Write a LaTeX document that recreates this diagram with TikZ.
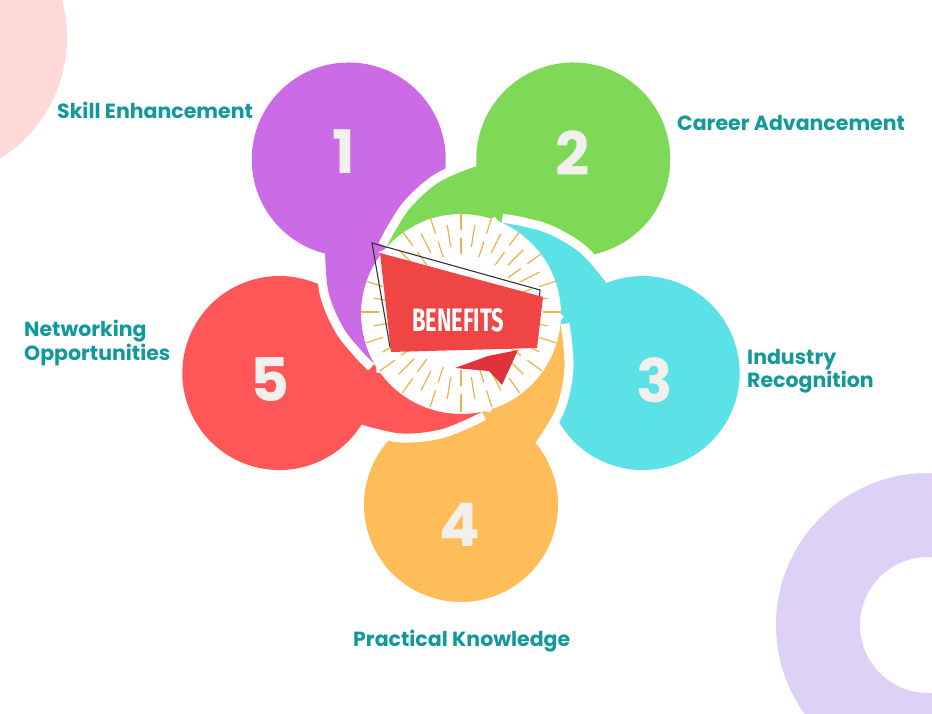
\documentclass[tikz,border=0pt]{standalone}
\usepackage{fontspec}
\usepackage{graphicx}
\setmainfont{Poppins}
\newfontfamily\banfont{Fira Sans}
\definecolor{cpurple}{HTML}{CB6CE6}
\definecolor{cgreen}{HTML}{7ED957}
\definecolor{ccyan}{HTML}{5CE1E6}
\definecolor{corange}{HTML}{FFBD59}
\definecolor{cred}{HTML}{FF5757}
\definecolor{teal}{HTML}{14999A}
\definecolor{digitc}{HTML}{F2F0EC}
\definecolor{pinkbg}{HTML}{FFD8D8}
\definecolor{lavbg}{HTML}{DDD1F8}
\definecolor{raygold}{HTML}{EDB04A}
\definecolor{banred}{HTML}{F04545}
\definecolor{ribred}{HTML}{E0323C}
\newcommand\petalcircle[2]{%
  \begin{scope}[rotate=#2]\fill[#1] (191,0) circle[radius=97];\end{scope}}
\newcommand\petaltail[2]{%
  \begin{scope}[rotate=#2]
    \draw[white,line width=18] plot[smooth,tension=0.6] coordinates {(84:100) (73:107) (60:119) (45:134) (30.6:148)};
    \fill[#1] (191,0) -- (18:100) arc[start angle=18,end angle=84,radius=100]
      -- plot[smooth,tension=0.6] coordinates {(84:100) (73:107) (60:119) (45:134) (30.6:148)} -- cycle;
  \end{scope}}
\tikzset{
  lbl/.style={text=teal,font=\fontsize{20.5}{20}\selectfont\bfseries,align=left,inner sep=0pt},
  digit/.style={text=digitc,font=\fontsize{60}{60}\selectfont\bfseries,inner sep=0pt},
  ray/.style={raygold,line width=1.2},
}
\begin{document}
\begin{tikzpicture}[x=1pt,y=1pt]
\fill[white] (0,0) rectangle (932,-714);
\useasboundingbox (0,0) rectangle (932,-714);
\begin{scope}
  \clip (0,0) rectangle (932,-714);
  \fill[pinkbg] (-75,-38) circle[radius=142];
  \fill[lavbg,even odd rule] (928,-625) circle[radius=152] (928,-625) circle[radius=68];
\end{scope}
% petals
\begin{scope}[shift={(461,-314)}]
  \petalcircle{cpurple}{126}
  \petalcircle{cgreen}{54}
  \petalcircle{ccyan}{-18}
  \petalcircle{corange}{-90}
  \petalcircle{cred}{-162}
  \fill[white] (0,0) circle[radius=100];
  \petaltail{cpurple}{126}
  \petaltail{cgreen}{54}
  \petaltail{ccyan}{-18}
  \petaltail{corange}{-90}
  \petaltail{cred}{-162}
\end{scope}
% sunburst
\begin{scope}[shift={(461,-312)}]
  \foreach \a in {0,18,...,342} {\draw[ray] (\a:58) -- (\a:74); \draw[ray] (\a:82) -- (\a:100);}
  \foreach \a in {9,27,...,351} {\draw[ray] (\a:66) -- (\a:88);}
\end{scope}
% banner
\draw[black!80,line width=1.1] (390,-347) -- (372,-243) -- (540,-290) -- (536,-345) -- cycle;
\fill[ribred] (455,-368) -- (488,-356) -- (518,-350) -- (502,-385) -- (489,-371) -- cycle;
\fill[banred] (380,-253) -- (543,-297) -- (537,-348) -- (391,-352) -- cycle;
\node[text=white,inner sep=0pt] (ban) at (458,-320) {\resizebox{92pt}{23pt}{\banfont\bfseries BENEFITS}};
% digits
\node[digit] (d1) at (344,-152) {1};
\node[digit] (d2) at (573,-153) {2};
\node[digit] (d3) at (655,-380) {3};
\node[digit] (d4) at (460,-525) {4};
\node[digit] (d5) at (270,-380) {5};
% labels
\node[lbl,anchor=west] (l1) at (57,-110) {Skill Enhancement};
\node[lbl,anchor=west] (l2) at (677,-123) {Career Advancement};
\node[lbl,anchor=west] (l3) at (747,-371) {Industry\\Recognition};
\node[lbl,anchor=west] (l4) at (353,-641) {Practical Knowledge};
\node[lbl,anchor=west] (l5) at (24,-343) {Networking\\Opportunities};
\end{tikzpicture}
\end{document}
